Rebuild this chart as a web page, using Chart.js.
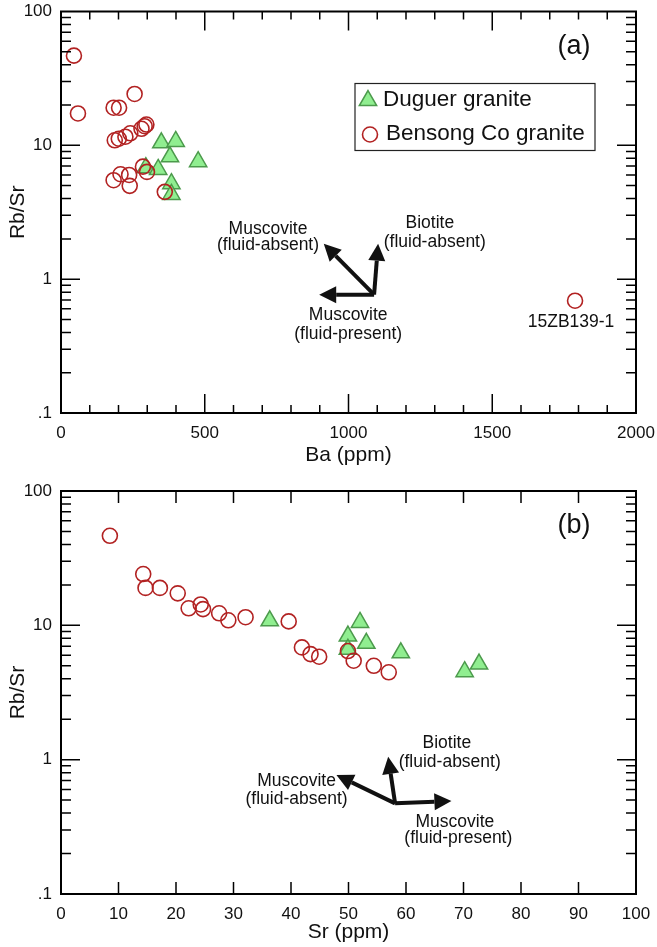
<!DOCTYPE html>
<html>
<head>
<meta charset="utf-8">
<script src="https://cdn.jsdelivr.net/npm/chart.js@4.4.0/dist/chart.umd.min.js"></script>
<style>
  body { margin: 0; background: #fff; }
  .panel { position: absolute; left: 0; width: 657px; }
  #wrapA { top: 0; height: 470px; }
  #wrapB { top: 475px; height: 472px; }
</style>
</head>
<body>
<div class="panel" id="wrapA"><canvas id="chartA" width="657" height="470"></canvas></div>
<div class="panel" id="wrapB"><canvas id="chartB" width="657" height="472"></canvas></div>
<script>
// --- data ---
const baDuguer = [349, 399, 379, 477, 295, 338, 384, 384];
const rbsrDuguerA = [10.45, 10.7, 8.2, 7.55, 6.8, 6.6, 5.17, 4.3];
const baBensong = [45, 59, 256, 183, 202, 187, 201, 224, 241, 280, 291, 297, 285, 299, 183, 207, 237, 239, 361, 1788];
const rbsrBensongA = [46.8, 17.3, 24.2, 19.1, 19.1, 10.9, 11.2, 11.6, 12.3, 13.3, 13.9, 14.3, 6.93, 6.33, 5.49, 6.08, 6.01, 4.98, 4.49, 0.69];

const srDuguer = [36.3, 52.0, 49.9, 53.1, 49.9, 59.1, 70.2, 72.7];
const rbsrDuguerB = [10.8, 10.5, 8.32, 7.35, 6.63, 6.25, 4.52, 5.15];
const srBensong = [8.5, 14.3, 14.7, 17.2, 20.3, 22.2, 24.3, 24.7, 27.5, 29.1, 32.1, 39.6, 41.9, 43.4, 44.9, 49.9, 50.9, 54.4, 57.0];
const rbsrBensongB = [46.4, 24.1, 19.0, 19.0, 17.3, 13.4, 14.3, 13.2, 12.3, 10.9, 11.5, 10.7, 6.85, 6.11, 5.84, 6.44, 5.45, 5.0, 4.47];

const yTickVals = [0.1, 1, 10, 100];
const yTickText = ['.1', '1', '10', '100'];
const seriesNames = ['Duguer granite', 'Bensong Co granite'];

const FONT = '"Liberation Sans", Arial, sans-serif';
const RED = '#b22222';
const GREEN_FILL = '#90ee90';
const GREEN_LINE = '#4c9a4c';

function pts(xs, ys) {
  return xs.map((x, i) => ({ x: x, y: ys[i] }));
}

function drawArrow(ctx, x0, y0, x1, y1) {
  const ang = Math.atan2(y1 - y0, x1 - x0);
  const head = 17, half = 8.5;
  const bx = x1 - head * Math.cos(ang), by = y1 - head * Math.sin(ang);
  ctx.beginPath();
  ctx.moveTo(x0, y0);
  ctx.lineTo(bx, by);
  ctx.stroke();
  ctx.beginPath();
  ctx.moveTo(x1, y1);
  ctx.lineTo(bx + half * Math.sin(ang), by - half * Math.cos(ang));
  ctx.lineTo(bx - half * Math.sin(ang), by + half * Math.cos(ang));
  ctx.closePath();
  ctx.fill();
}

// frame, inward ticks, arrows, notes and legend
const extras = {
  id: 'extras',
  afterDraw(chart, args, opts) {
    const ctx = chart.ctx;
    const a = chart.chartArea;
    const x = chart.scales.x, y = chart.scales.y;
    ctx.save();
    ctx.strokeStyle = '#000';
    ctx.lineWidth = 1.5;
    ctx.beginPath();
    // x ticks, top and bottom
    for (let v = x.min; v <= x.max + 1e-9; v += opts.xMinor) {
      const px = x.getPixelForValue(v);
      const isMajor = Math.abs(v / opts.xMajor - Math.round(v / opts.xMajor)) < 1e-6;
      const len = isMajor ? opts.xMajorLen : 8;
      ctx.moveTo(px, a.bottom); ctx.lineTo(px, a.bottom - len);
      ctx.moveTo(px, a.top); ctx.lineTo(px, a.top + len);
    }
    // log y ticks, left and right
    for (let d = -1; d < 2; d++) {
      for (let m = 1; m < 10; m++) {
        const py = y.getPixelForValue(m * Math.pow(10, d));
        const len = m === 1 ? 19 : 10;
        ctx.moveTo(a.left, py); ctx.lineTo(a.left + len, py);
        ctx.moveTo(a.right, py); ctx.lineTo(a.right - len, py);
      }
    }
    ctx.stroke();
    ctx.lineWidth = 2;
    ctx.strokeRect(a.left, a.top, a.right - a.left, a.bottom - a.top);

    // process arrows
    ctx.lineWidth = 4;
    ctx.fillStyle = '#111';
    ctx.strokeStyle = '#111';
    const o = opts.origin;
    const ox = x.getPixelForValue(o[0]), oy = y.getPixelForValue(o[1]);
    opts.tips.forEach(t => {
      drawArrow(ctx, ox, oy, x.getPixelForValue(t[0]), y.getPixelForValue(t[1]));
    });

    // notes
    ctx.fillStyle = '#111';
    ctx.textBaseline = 'middle';
    ctx.textAlign = 'center';
    ctx.font = '17.5px ' + FONT;
    opts.notes.forEach(n => {
      ctx.fillText(n[2], x.getPixelForValue(n[0]), y.getPixelForValue(n[1]));
    });

    // panel letter
    ctx.font = '27px ' + FONT;
    ctx.fillText(opts.letter, a.right - 62, a.top + 35);

    // legend box
    if (opts.legend) {
      const lx = a.left + 294, ly = a.top + 72, lw = 240, lh = 67;
      ctx.lineWidth = 1.2;
      ctx.strokeStyle = '#222';
      ctx.strokeRect(lx, ly, lw, lh);
      ctx.textAlign = 'left';
      ctx.font = '22.5px ' + FONT;
      const ds = chart.data.datasets;
      [1, 0].forEach((di, row) => {
        const d = ds[di];
        const cy = ly + 15 + row * 34;
        ctx.fillStyle = d.backgroundColor;
        ctx.strokeStyle = d.borderColor;
        ctx.lineWidth = d.borderWidth;
        Chart.helpers.drawPoint(ctx, { pointStyle: d.pointStyle, radius: d.pointRadius, rotation: 0, borderWidth: d.borderWidth }, lx + 13 + row * 2, cy + 2);
        ctx.fillStyle = '#111';
        ctx.fillText(seriesNames[di === 1 ? 0 : 1], lx + 28 + row * 3, cy + 1);
      });
    }
    ctx.restore();
  }
};

function makeChart(id, cfg) {
  return new Chart(document.getElementById(id), {
    type: 'scatter',
    data: {
      datasets: [{
        label: seriesNames[1],
        data: cfg.red,
        pointStyle: 'circle',
        pointRadius: 7.5,
        pointHoverRadius: 7.5,
        borderColor: RED,
        backgroundColor: 'rgba(0,0,0,0)',
        borderWidth: 1.6
      }, {
        label: seriesNames[0],
        data: cfg.green,
        pointStyle: 'triangle',
        pointRadius: 10,
        pointHoverRadius: 10,
        borderColor: GREEN_LINE,
        backgroundColor: GREEN_FILL,
        borderWidth: 1.5
      }]
    },
    options: {
      responsive: false,
      animation: false,
      layout: { padding: { top: cfg.padTop, right: 21, left: 0, bottom: 0 } },
      plugins: {
        legend: { display: false },
        tooltip: { enabled: false },
        extras: cfg.extras
      },
      scales: {
        x: {
          type: 'linear',
          min: cfg.xMin, max: cfg.xMax,
          grid: { display: false, drawTicks: false },
          border: { display: false },
          afterFit: s => { s.height = cfg.xHeight; s.paddingLeft = 0; s.paddingRight = 0; },
          ticks: {
            stepSize: cfg.xStep,
            padding: 10,
            color: '#111',
            font: { family: FONT, size: 17 },
            callback: v => String(v)
          },
          title: { display: true, text: cfg.xTitle, color: '#111', font: { family: FONT, size: 21 }, padding: { top: 0, bottom: 2 } }
        },
        y: {
          type: 'logarithmic',
          min: 0.1, max: 100,
          grid: { display: false, drawTicks: false },
          border: { display: false },
          afterFit: s => { s.width = 61; s.paddingTop = 0; s.paddingBottom = 0; },
          afterBuildTicks: s => { s.ticks = yTickVals.map(v => ({ value: v })); },
          ticks: {
            padding: 9,
            color: '#111',
            font: { family: FONT, size: 17 },
            callback: v => yTickText[yTickVals.indexOf(v)]
          },
          title: { display: true, text: 'Rb/Sr', color: '#111', font: { family: FONT, size: 21 }, padding: { top: 6, bottom: 0 } }
        }
      }
    },
    plugins: [extras]
  });
}

makeChart('chartA', {
  red: pts(baBensong, rbsrBensongA),
  green: pts(baDuguer, rbsrDuguerA),
  xMin: 0, xMax: 2000, xStep: 500, xTitle: 'Ba (ppm)',
  padTop: 10, xHeight: 57,
  extras: {
    xMinor: 100, xMajor: 500, xMajorLen: 19,
    origin: [1089, 0.766],
    tips: [[1103, 1.84], [914, 1.84], [898, 0.766]],
    notes: [
      [720, 2.37, 'Muscovite'], [720, 1.78, '(fluid-absent)'],
      [1283, 2.61, 'Biotite'], [1300, 1.89, '(fluid-absent)'],
      [999, 0.537, 'Muscovite'], [999, 0.39, '(fluid-present)'],
      [1774, 0.476, '15ZB139-1']
    ],
    letter: '(a)',
    legend: true
  }
});

makeChart('chartB', {
  red: pts(srBensong, rbsrBensongB),
  green: pts(srDuguer, rbsrDuguerB),
  xMin: 0, xMax: 100, xStep: 10, xTitle: 'Sr (ppm)',
  padTop: 16, xHeight: 53,
  extras: {
    xMinor: 10, xMajor: 10, xMajorLen: 12,
    origin: [58.1, 0.473],
    tips: [[56.9, 1.05], [47.9, 0.769], [67.9, 0.493]],
    notes: [
      [67.1, 1.32, 'Biotite'], [67.6, 0.95, '(fluid-absent)'],
      [40.96, 0.686, 'Muscovite'], [40.96, 0.507, '(fluid-absent)'],
      [68.5, 0.345, 'Muscovite'], [69.1, 0.26, '(fluid-present)']
    ],
    letter: '(b)',
    legend: false
  }
});
</script>
</body>
</html>
